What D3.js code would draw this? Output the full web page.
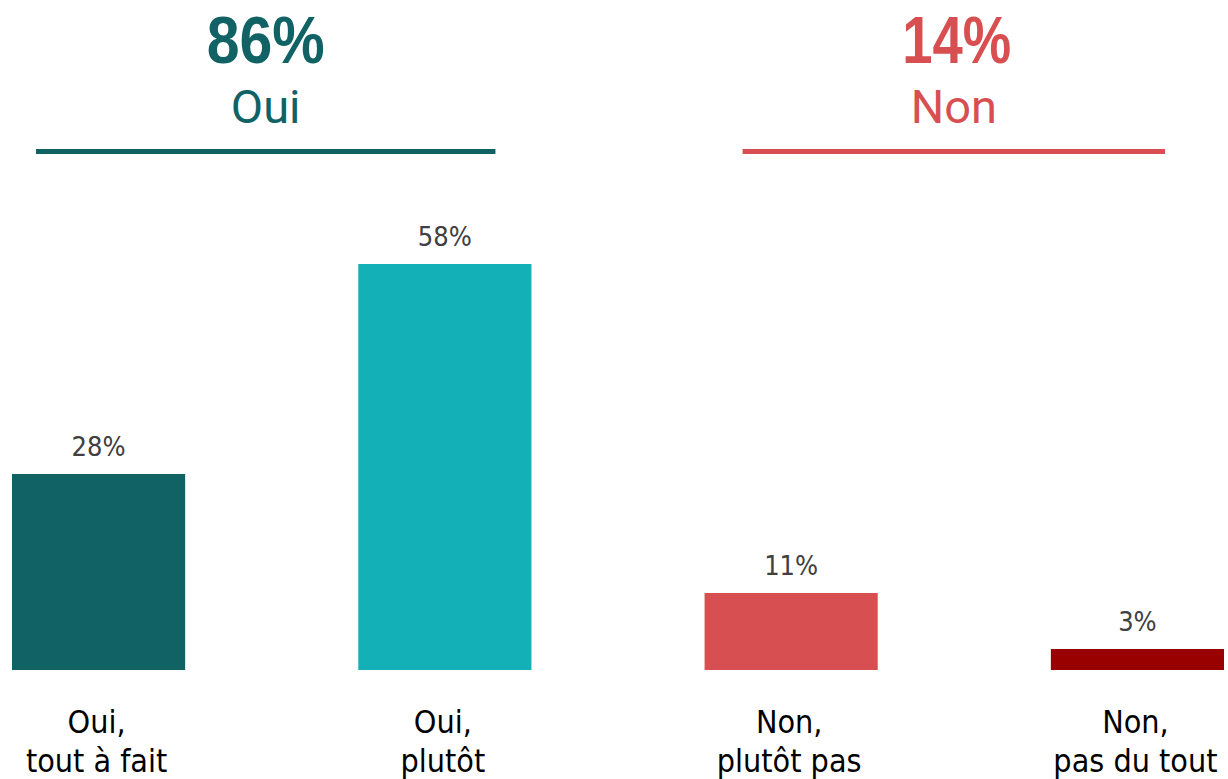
<!DOCTYPE html>
<html>
<head>
<meta charset="utf-8">
<script src="https://cdn.jsdelivr.net/npm/d3@7"></script>
<style>
  body { margin: 0; background: #fff; }
  svg { display: block; }
  .val { font-family: "DejaVu Sans Condensed", "DejaVu Sans", sans-serif; font-size: 27px; fill: #404040; }
  .cat { font-family: "DejaVu Sans Condensed", "DejaVu Sans", sans-serif; font-size: 32px; fill: #000; }
  .big { font-family: "Liberation Sans", Arial, sans-serif; font-weight: bold; font-size: 66px; }
  .grp { font-family: Roboto, sans-serif; font-size: 47px; }
</style>
</head>
<body>
<svg id="chart" width="1228" height="779"></svg>
<script>
var categories = ["Oui,|tout à fait", "Oui,|plutôt", "Non,|plutôt pas", "Non,|pas du tout"];
var values = [28, 58, 11, 3];
var barColors = ["#116265", "#14b0b8", "#d84f51", "#990000"];

var groupTotals = ["86%", "14%"];
var groupNames = ["Oui", "Non"];
var groupColors = ["#116265", "#d84f51"];

var svg = d3.select("#chart");

var x = d3.scaleBand()
    .domain(categories)
    .range([12, 1224])
    .paddingInner(0.5)
    .paddingOuter(0);

var y = d3.scaleLinear()
    .domain([0, 58])
    .range([670, 264]);

var bw = x.bandwidth();

// bars
svg.selectAll("rect.bar")
    .data(values)
    .enter()
    .append("rect")
    .attr("class", "bar")
    .attr("x", function(d, i) { return x(categories[i]); })
    .attr("y", function(d) { return y(d); })
    .attr("width", bw)
    .attr("height", function(d) { return y(0) - y(d); })
    .attr("fill", function(d, i) { return barColors[i]; });

// value labels
svg.selectAll("text.val")
    .data(values)
    .enter()
    .append("text")
    .attr("class", "val")
    .attr("text-anchor", "middle")
    .attr("x", function(d, i) { return x(categories[i]) + bw / 2; })
    .attr("y", function(d) { return y(d) - 18; })
    .text(function(d) { return d + "%"; });

// category labels, two lines each
categories.forEach(function(c, i) {
    var lines = c.split("|");
    var t = svg.append("text")
        .attr("class", "cat")
        .attr("text-anchor", "middle");
    lines.forEach(function(l, j) {
        t.append("tspan")
            .attr("x", x(c) + bw / 2 - 2)
            .attr("y", 733 + j * 39)
            .text(l);
    });
});

// group headers: Oui over first two bars, Non over last two
var spans = [
    [x(categories[0]) + 24, x(categories[1]) + bw - 36],
    [x(categories[2]) + 38, x(categories[3]) + bw - 59]
];
// the source font is narrower than Arial bold, squeeze to match
var bigWidths = [118, 109];

spans.forEach(function(s, i) {
    var cx = (s[0] + s[1]) / 2 + (i == 1 ? 3 : 0);
    svg.append("text")
        .attr("class", "big")
        .attr("text-anchor", "middle")
        .attr("x", cx)
        .attr("y", 63)
        .attr("textLength", bigWidths[i])
        .attr("lengthAdjust", "spacingAndGlyphs")
        .attr("fill", groupColors[i])
        .text(groupTotals[i]);
    svg.append("text")
        .attr("class", "grp")
        .attr("text-anchor", "middle")
        .attr("x", (s[0] + s[1]) / 2)
        .attr("y", 123)
        .attr("fill", groupColors[i])
        .text(groupNames[i]);
    svg.append("line")
        .attr("x1", s[0])
        .attr("x2", s[1])
        .attr("y1", 151.5)
        .attr("y2", 151.5)
        .attr("stroke", groupColors[i])
        .attr("stroke-width", 5);
});
</script>
</body>
</html>
